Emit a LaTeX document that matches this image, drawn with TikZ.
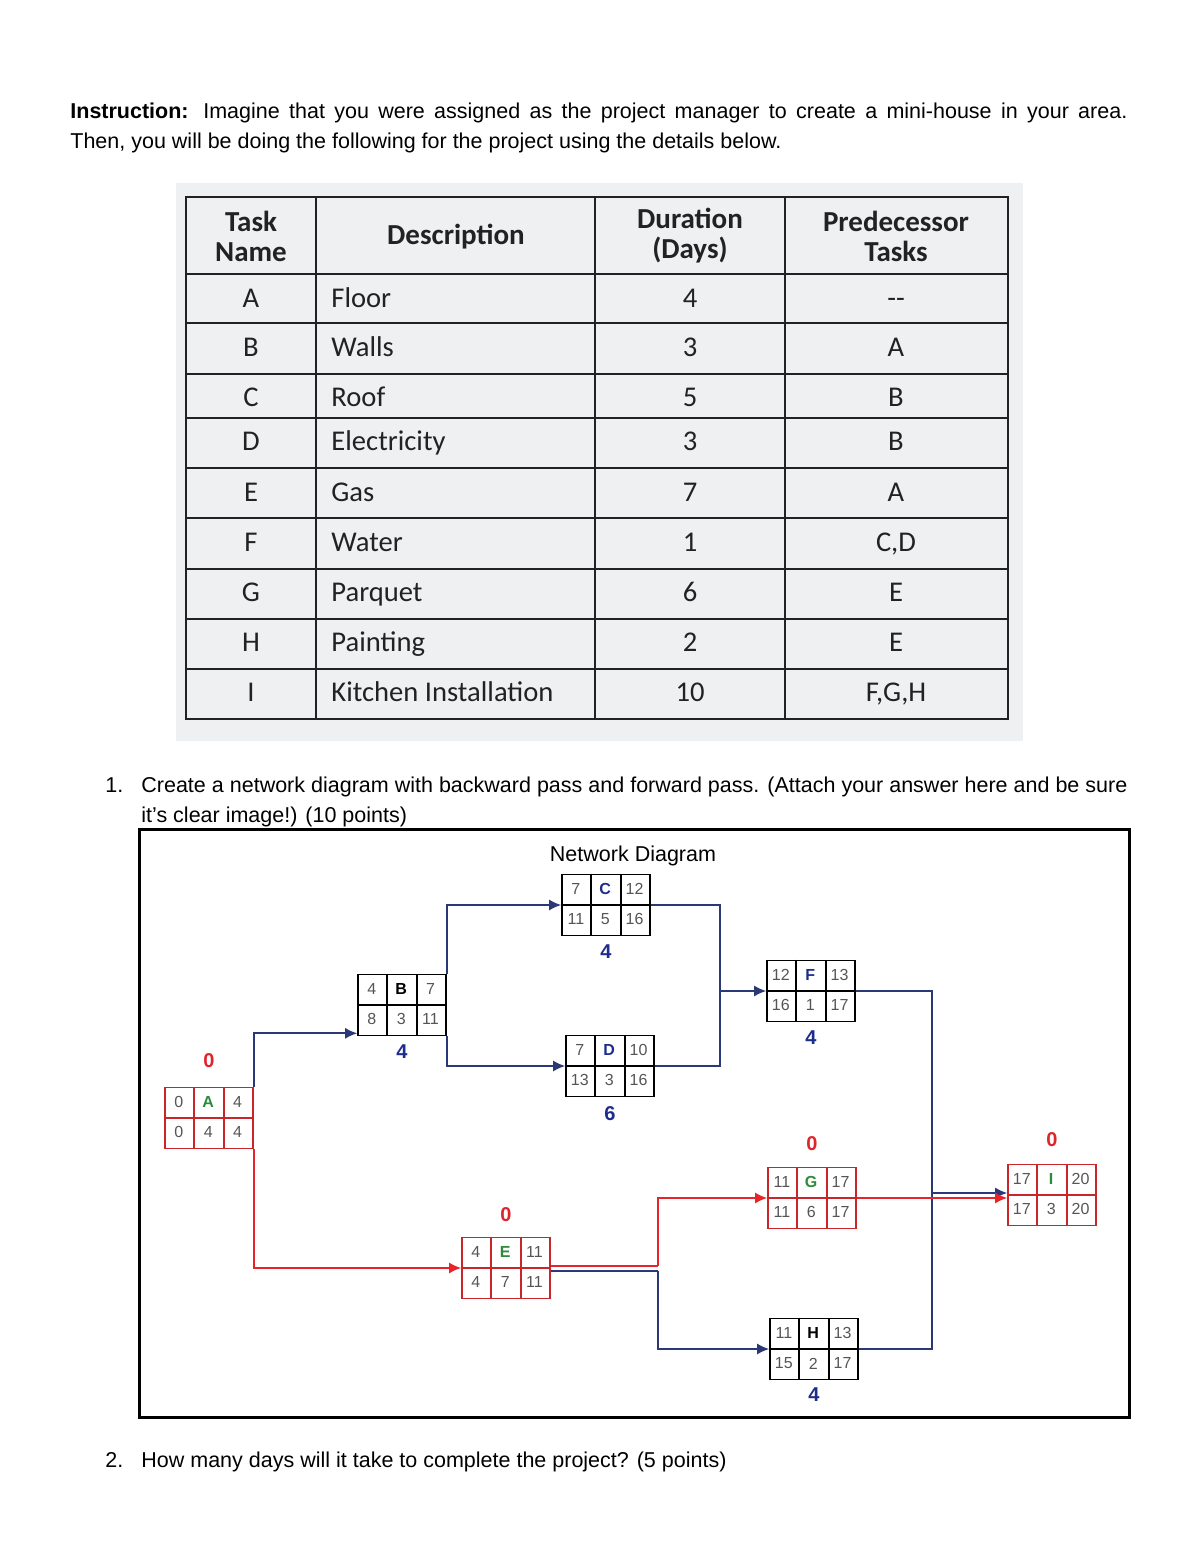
\documentclass[tikz,border=0pt]{standalone}
\usepackage{fontspec}
\setmainfont{Liberation Sans}
\newfontfamily\calfont{Carlito}
\usetikzlibrary{calc,arrows.meta}
\definecolor{navyline}{HTML}{2A3876}
\definecolor{redline}{HTML}{E8232A}
\definecolor{redframe}{HTML}{C9262C}
\definecolor{hgreen}{HTML}{2E8B3A}
\definecolor{hnavy}{HTML}{1E2D8C}
\definecolor{hred}{HTML}{E0242B}
\definecolor{tablebg}{HTML}{EEF0F2}
\definecolor{tline}{HTML}{222222}
\definecolor{numgray}{HTML}{555555}
\tikzset{
  body/.style={font=\fontsize{10.75}{15}\selectfont, inner sep=0pt, anchor=base west, text=black},
  tcell/.style={font=\calfont\fontsize{14.3}{16}\selectfont, inner sep=0pt, text=tline},
  thead/.style={font=\calfont\bfseries\fontsize{14.5}{16}\selectfont, inner sep=0pt, align=center, text=tline},
  pframe/.style={rectangle, minimum width=44pt, minimum height=30.5pt, inner sep=0pt, line width=0.8pt},
  pthin/.style={line width=0.7pt},
  pnum/.style={font=\fontsize{8}{8}\selectfont, inner sep=0pt, text=numgray},
  slack/.style={font=\fontsize{10}{10}\selectfont\bfseries, inner sep=0pt},
  navyc/.style={draw=navyline, line width=0.85pt},
  redc/.style={draw=redline, line width=0.85pt},
  tip/.style={-{Latex[length=6pt,width=5.5pt]}},
}
\newcommand\pbox[9]{%
  \node[pframe,draw=#3] (#1) at (#2) {};
  \draw[draw=#3,pthin] ($(#1.north west)!1/3!(#1.north east)$) -- ($(#1.south west)!1/3!(#1.south east)$);
  \draw[draw=#3,pthin] ($(#1.north west)!2/3!(#1.north east)$) -- ($(#1.south west)!2/3!(#1.south east)$);
  \draw[draw=#3,pthin] (#1.west) -- (#1.east);
  \node[pnum] (#1-es) at ($(#1.north west)+(14.67,15.25)$) {#4};
  \node[pnum] (#1-id) at ($(#1.north west)+(44,15.25)$) {#5};
  \node[pnum] (#1-ef) at ($(#1.north west)+(73.33,15.25)$) {#6};
  \node[pnum] (#1-ls) at ($(#1.north west)+(14.67,45.75)$) {#7};
  \node[pnum] (#1-du) at ($(#1.north west)+(44,45.75)$) {#8};
  \node[pnum] (#1-lf) at ($(#1.north west)+(73.33,45.75)$) {#9};
}
\begin{document}
\begin{tikzpicture}[x=0.5pt,y=-0.5pt]
\useasboundingbox[fill=white] (0,0) rectangle (1200,1553);

% instruction
\node[body] (ins1) at (70,118) {\makebox[528.5pt][s]{\textbf{Instruction:} Imagine that you were assigned as the project manager to create a mini-house in your area.}};
\node[body] (ins2) at (70,148) {Then, you will be doing the following for the project using the details below.};

% table
\fill[tablebg] (176,183) rectangle (1023,741);
\draw[tline, line width=1.1pt] (186,197) rectangle (1008,719);
\foreach \yy in {274,323,374,418,468,518,569,619,669}{
  \draw[tline, line width=1pt] (186,\yy) -- (1008,\yy);
}
\foreach \xx in {316,595,785}{
  \draw[tline, line width=1pt] (\xx,197) -- (\xx,719);
}
\node[thead] (h1) at (251,236) {Task\\[-1pt]Name};
\node[thead] (h2) at (456,237) {Description};
\node[thead] (h3) at (690,236) {Duration\\[-1pt](Days)};
\node[thead] (h4) at (896,236) {Predecessor\\[-1pt]Tasks};
\foreach \k/\t/\d/\du/\p/\yy in {
  a/A/Floor/4/--/298, b/B/Walls/3/A/347, c/C/Roof/5/B/397, d/D/Electricity/3/B/441,
  e/E/Gas/7/A/492, f/F/Water/1/{C,D}/542, g/G/Parquet/6/E/592, h/H/Painting/2/E/642,
  i/I/Kitchen Installation/10/{F,G,H}/692}{
  \node[tcell, anchor=base] (tn-\k) at (251,\yy+9) {\t};
  \node[tcell, anchor=base west] (td-\k) at (331,\yy+9) {\d};
  \node[tcell, anchor=base] (tu-\k) at (690,\yy+9) {\du};
  \node[tcell, anchor=base] (tp-\k) at (896,\yy+9) {\p};
}

% question 1
\node[body] (q1n) at (105,792) {1.};
\node[body] (q1a) at (141,792) {\makebox[493pt][s]{Create a network diagram with backward pass and forward pass. (Attach your answer here and be sure}};
\node[body] (q1b) at (141,822) {it's clear image!) (10 points)};

% frame
\draw[black, line width=1.5pt] (139,829) rectangle (1129,1417);
\node[body, anchor=base] (ndt) at (633,861) {Network Diagram};

% boxes
\pbox{A}{209,1118}{redframe}{0}{\textbf{\color{hgreen}A}}{4}{0}{4}{4}
\pbox{B}{402,1005}{black}{4}{\textbf{\color{black}B}}{7}{8}{3}{11}
\pbox{C}{606,905}{black}{7}{\textbf{\color{hnavy}C}}{12}{11}{5}{16}
\pbox{D}{610,1066}{black}{7}{\textbf{\color{hnavy}D}}{10}{13}{3}{16}
\pbox{F}{811,991}{black}{12}{\textbf{\color{hnavy}F}}{13}{16}{1}{17}
\pbox{E}{506,1268}{redframe}{4}{\textbf{\color{hgreen}E}}{11}{4}{7}{11}
\pbox{G}{812,1198}{redframe}{11}{\textbf{\color{hgreen}G}}{17}{11}{6}{17}
\pbox{H}{814,1349}{black}{11}{\textbf{\color{black}H}}{13}{15}{2}{17}
\pbox{I}{1052,1195}{redframe}{17}{\textbf{\color{hgreen}I}}{20}{17}{3}{20}

% slack labels
\node[slack, text=hred] (sA) at ($(A.north)+(0,-26)$) {0};
\node[slack, text=hnavy] (sB) at ($(B.south)+(0,15)$) {4};
\node[slack, text=hnavy] (sC) at ($(C.south)+(0,15)$) {4};
\node[slack, text=hnavy] (sD) at ($(D.south)+(0,16)$) {6};
\node[slack, text=hnavy] (sF) at ($(F.south)+(0,15)$) {4};
\node[slack, text=hred] (sE) at ($(E.north)+(0,-22)$) {0};
\node[slack, text=hred] (sG) at ($(G.north)+(0,-23)$) {0};
\node[slack, text=hnavy] (sH) at ($(H.south)+(0,14)$) {4};
\node[slack, text=hred] (sI) at ($(I.north)+(0,-24)$) {0};

% junctions
\coordinate (jCF) at (720,991);
\coordinate (jI) at (932,1193);
\coordinate (jEG) at (658,1266);
\coordinate (jEH) at (658,1271);

% connectors
\draw[navyc, tip] (A.north east) |- ($(B.south west)+(0,-3)$);
\draw[redc, tip] (A.south east) |- (E.west);
\draw[navyc, tip] (B.north east) |- (C.west);
\draw[navyc, tip] (B.south east) |- (D.west);
\draw[navyc] (C.east) -| (jCF);
\draw[navyc] (D.east) -| (jCF);
\draw[navyc, tip] (jCF) -- (F.west);
\draw[navyc] (F.east) -| (jI);
\draw[navyc] (H.east) -| (jI);
\draw[navyc, tip] (jI) -- (jI -| I.west);
\draw[redc] (E.east |- jEG) -- (jEG);
\draw[redc, tip] (jEG) |- (G.west);
\draw[navyc] (E.east |- jEH) -- (jEH);
\draw[navyc, tip] (jEH) |- (H.west);
\draw[redc, tip] (G.east) -- (G.east -| I.west);

% question 2
\node[body] (q2n) at (105,1467) {2.};
\node[body] (q2a) at (141,1467) {How many days will it take to complete the project? (5 points)};
\end{tikzpicture}
\end{document}
